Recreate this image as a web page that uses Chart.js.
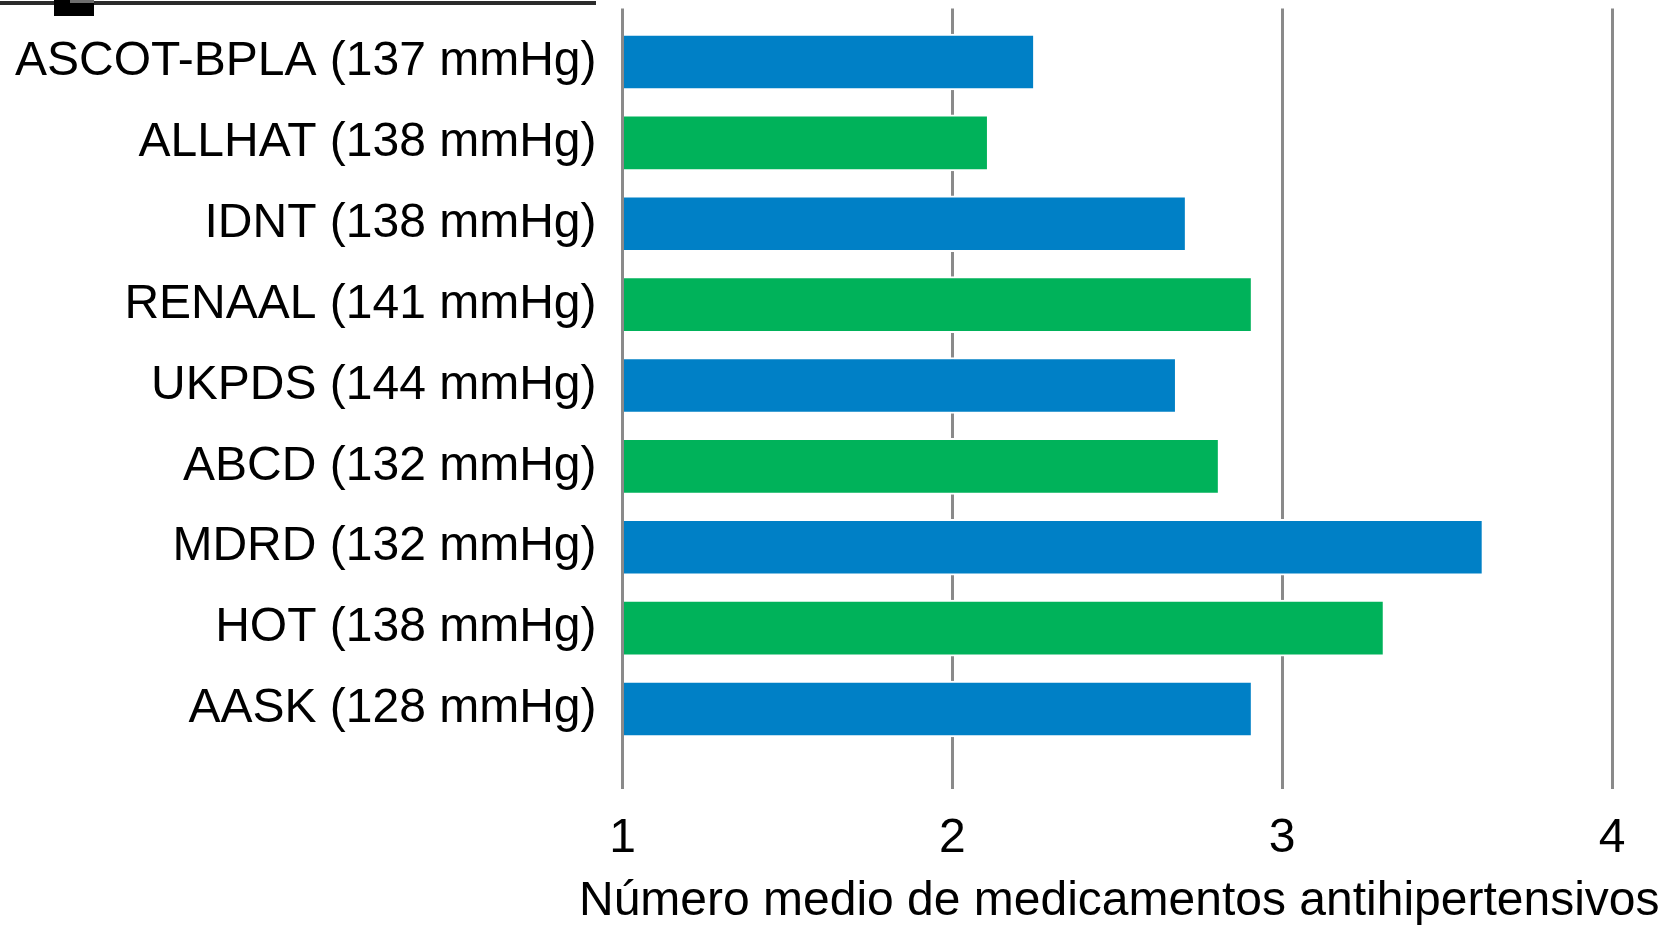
<!DOCTYPE html>
<html lang="es">
<head>
<meta charset="utf-8">
<title>Número medio de medicamentos antihipertensivos</title>
<script src="https://cdn.jsdelivr.net/npm/chart.js@4.4.1/dist/chart.umd.min.js"></script>
<style>
  html, body { margin: 0; padding: 0; background: #ffffff; }
  #wrap { position: relative; width: 1677px; height: 927px; }
</style>
</head>
<body>
<div id="wrap"><canvas id="chart"></canvas></div>
<script>
// Trials with their achieved systolic pressure
const trials = [
  'ASCOT-BPLA (137 mmHg)',
  'ALLHAT (138 mmHg)',
  'IDNT (138 mmHg)',
  'RENAAL (141 mmHg)',
  'UKPDS (144 mmHg)',
  'ABCD (132 mmHg)',
  'MDRD (132 mmHg)',
  'HOT (138 mmHg)',
  'AASK (128 mmHg)'
];
// Mean number of antihypertensive drugs per trial
const meanDrugs = [2.25, 2.11, 2.71, 2.91, 2.68, 2.81, 3.61, 3.31, 2.91];
// Value axis ticks
const xTicks = [1, 2, 3, 4];
const xTitle = 'Número medio de medicamentos antihipertensivos';

const BLUE = '#0080c6';
const GREEN = '#00b25a';
const FONT = '"Liberation Sans", Arial, sans-serif';

const points = trials.map((_, i) => ({ x: meanDrugs[i], y: i }));

// Thin rule and marker at the top-left corner of the slide
const cornerMarks = {
  id: 'cornerMarks',
  afterDraw(chart) {
    const ctx = chart.ctx;
    ctx.save();
    ctx.fillStyle = '#2b2b2b';
    ctx.fillRect(0, 1, 596, 4);
    ctx.fillStyle = '#000000';
    ctx.fillRect(54, 0, 40, 16);
    ctx.fillStyle = '#6e6e6e';
    ctx.fillRect(70, 0, 24, 3);
    ctx.restore();
  }
};

// Axis title centred under the value axis, at its natural width
// (the built-in scale title is squeezed to the axis width)
const valueAxisTitle = {
  id: 'valueAxisTitle',
  afterDraw(chart) {
    const xs = chart.scales.x;
    const ctx = chart.ctx;
    ctx.save();
    ctx.font = '48px ' + FONT;
    ctx.fillStyle = '#000000';
    ctx.textAlign = 'center';
    ctx.textBaseline = 'alphabetic';
    ctx.fillText(xTitle, (xs.left + xs.right) / 2 + 2, xs.bottom - 12);
    ctx.restore();
  }
};

new Chart(document.getElementById('chart'), {
  type: 'bar',
  data: {
    datasets: [{
      data: points,
      base: 1,
      backgroundColor: trials.map((_, i) => (i % 2 === 0 ? BLUE : GREEN)),
      borderColor: '#ffffff',
      borderWidth: 2,
      borderSkipped: 'start',
      barThickness: 56
    }]
  },
  options: {
    indexAxis: 'y',
    responsive: true,
    maintainAspectRatio: false,
    devicePixelRatio: 1,
    animation: false,
    layout: { padding: { top: 8.5, right: 65, bottom: 0, left: 0 } },
    plugins: {
      legend: { display: false },
      tooltip: { enabled: false }
    },
    scales: {
      x: {
        type: 'linear',
        position: 'bottom',
        min: xTicks[0],
        max: xTicks[xTicks.length - 1],
        afterBuildTicks: (scale) => { scale.ticks = xTicks.map(v => ({ value: v })); },
        afterFit: (scale) => { scale.height = 138; scale.paddingLeft = 0; scale.paddingRight = 0; },
        grid: { color: '#8a8a8a', lineWidth: 3, drawTicks: false },
        border: { display: false },
        ticks: {
          padding: 21,
          color: '#000000',
          font: { family: FONT, size: 48 }
        },
        title: { display: false }
      },
      y: {
        type: 'linear',
        position: 'left',
        reverse: true,
        offset: false,
        min: -0.661,
        max: 8.989,
        afterBuildTicks: (scale) => { scale.ticks = trials.map((_, i) => ({ value: i })); },
        afterFit: (scale) => { scale.width = 622.5; scale.paddingTop = 0; scale.paddingBottom = 0; },
        grid: { display: false, drawTicks: false, offset: false },
        border: { display: false },
        ticks: {
          autoSkip: false,
          padding: 26,
          color: '#000000',
          font: { family: FONT, size: 48 },
          callback: (v) => trials[v]
        }
      }
    }
  },
  plugins: [cornerMarks, valueAxisTitle]
});
</script>
</body>
</html>
